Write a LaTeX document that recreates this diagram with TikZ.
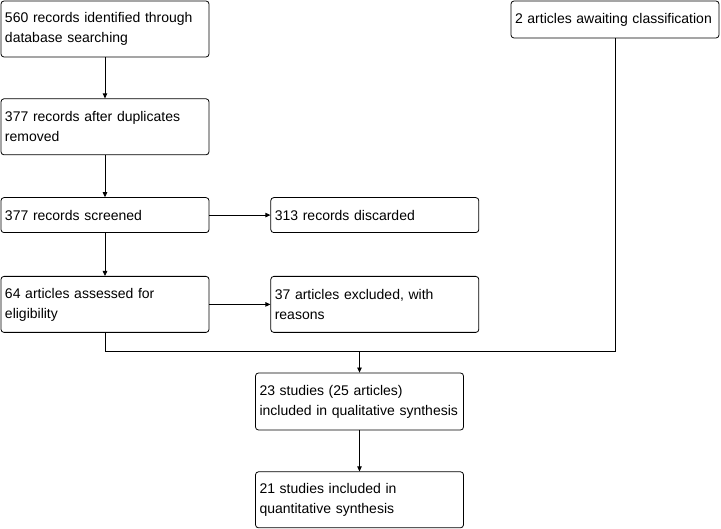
\documentclass[tikz,border=0pt]{standalone}
\usepackage{fontspec}
\setmainfont{Liberation Sans}
\usetikzlibrary{positioning,arrows.meta}

\begin{document}
\begin{tikzpicture}[x=1pt,y=-1pt,>={Triangle[length=5pt,width=4.5pt]},node distance=42pt,line width=0.8pt,
  flowbox/.style={draw,rounded corners=3pt,align=left,inner xsep=4pt,inner ysep=0pt,
    text width=200pt,minimum height=56pt,font=\fontsize{14}{20}\selectfont}]
  \useasboundingbox (0,0) rectangle (721,529);
  \node[flowbox] (found) at (105,29) {560 records identified through\\database searching};
  \node[flowbox,below=41pt of found] (dedup) {377 records after duplicates\\removed};
  \node[flowbox,below=of dedup,minimum height=35pt] (screen) {377 records screened};
  \node[flowbox,below=43pt of screen] (assess) {64 articles assessed for\\eligibility};
  \node[flowbox,right=61pt of screen,minimum height=35pt] (discard) {313 records discarded};
  \node[flowbox,right=61pt of assess] (exclude) {37 articles excluded, with\\reasons};
  \node[flowbox,minimum height=37pt] (await) at (615,19.5) {2 articles awaiting classification};
  \node[flowbox,minimum height=57pt] (qual) at (359.5,401.5) {23 studies (25 articles)\\included in qualitative synthesis};
  \node[flowbox,below=41pt of qual] (quant) {21 studies included in\\quantitative synthesis};
  \coordinate[above=21pt of qual.north] (merge);
  \draw[->] (found) -- (dedup);
  \draw[->] (dedup) -- (screen);
  \draw[->] (screen) -- (assess);
  \draw[->] (screen) -- (discard);
  \draw[->] (assess) -- (exclude);
  \draw (assess.south) |- (merge) -| (await.south);
  \draw[->] (merge) -- (qual);
  \draw[->] (qual) -- (quant);
\end{tikzpicture}
\end{document}
